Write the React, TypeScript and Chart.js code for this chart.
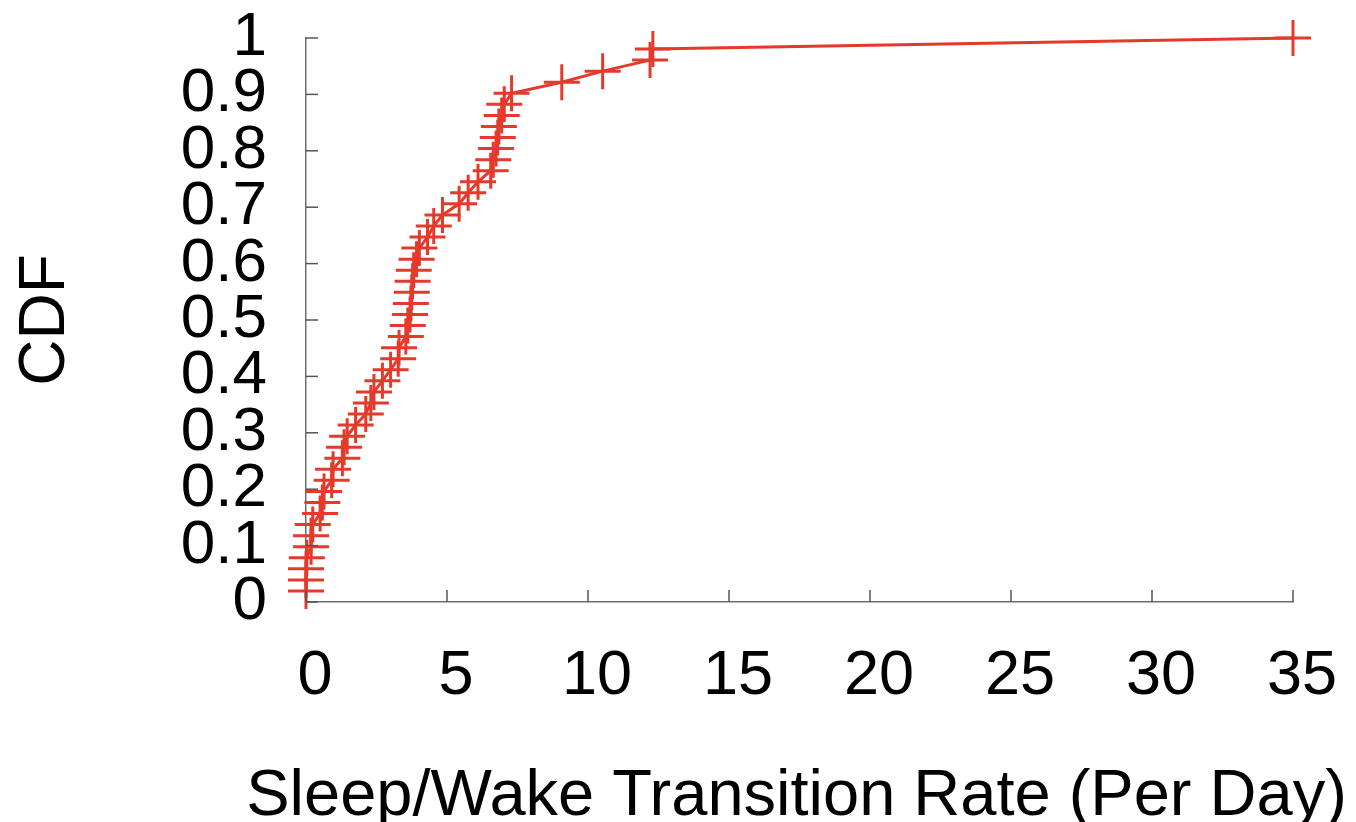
import React, { useEffect, useRef } from "react";
import { Chart, registerables } from "chart.js";

Chart.register(...registerables);

// Sleep/Wake transition rate (per day) for each device, sorted
const rateValues = [
  0, 0, 0, 0.03, 0.18, 0.18, 0.24, 0.5, 0.58, 0.64, 0.91, 0.96, 1.29, 1.35,
  1.46, 1.76, 2.12, 2.3, 2.41, 2.71, 3.0, 3.27, 3.3, 3.54, 3.61, 3.69, 3.72,
  3.75, 3.78, 3.82, 3.92, 4.02, 4.31, 4.53, 4.84, 5.43, 5.75, 6.1, 6.55, 6.64,
  6.74, 6.8, 6.84, 6.94, 7.03, 7.29, 9.07, 10.52, 12.2, 12.3, 35,
];
// cumulative fraction
const cdfValues = [
  0.0196, 0.0392, 0.0588, 0.0784, 0.098, 0.1176, 0.1373, 0.1569, 0.1765,
  0.1961, 0.2157, 0.2353, 0.2549, 0.2745, 0.2941, 0.3137, 0.3333, 0.3529,
  0.3725, 0.3922, 0.4118, 0.4314, 0.451, 0.4706, 0.4902, 0.5098, 0.5294,
  0.549, 0.5686, 0.5882, 0.6078, 0.6275, 0.6471, 0.6667, 0.6863, 0.7059,
  0.7255, 0.7451, 0.7647, 0.7843, 0.8039, 0.8235, 0.8431, 0.8627, 0.8824,
  0.902, 0.9216, 0.9412, 0.9608, 0.9804, 1,
];
const xTickValues = [0, 5, 10, 15, 20, 25, 30, 35];
const xTickLabels = ["0", "5", "10", "15", "20", "25", "30", "35"];
const yTickValues = [0, 0.1, 0.2, 0.3, 0.4, 0.5, 0.6, 0.7, 0.8, 0.9, 1];
const yTickLabels = ["0", "0.1", "0.2", "0.3", "0.4", "0.5", "0.6", "0.7", "0.8", "0.9", "1"];
const xTitle = "Sleep/Wake Transition Rate (Per Day)";
const yTitle = "CDF";

const FONT = "'Liberation Sans', Arial, Helvetica, sans-serif";
const RED = "#e43a2c";
const AXIS = "#6e6e6e";

const inwardTicks = {
  id: "inwardTicks",
  afterDatasetsDraw(chart: any) {
    const { ctx, chartArea, scales } = chart;
    ctx.save();
    ctx.strokeStyle = "#555";
    ctx.lineWidth = 1.5;
    const x = scales.x;
    const y = scales.y;
    for (const v of yTickValues) {
      const py = y.getPixelForValue(v);
      ctx.beginPath();
      ctx.moveTo(chartArea.left, py);
      ctx.lineTo(chartArea.left + 12, py);
      ctx.stroke();
    }
    for (const v of xTickValues) {
      const px = x.getPixelForValue(v);
      ctx.beginPath();
      ctx.moveTo(px, chartArea.bottom);
      ctx.lineTo(px, chartArea.bottom - 12);
      ctx.stroke();
    }
    // x-axis title (drawn without Chart.js' maxWidth squeeze)
    ctx.fillStyle = "#000";
    ctx.font = `65px ${FONT}`;
    ctx.textAlign = "center";
    ctx.textBaseline = "alphabetic";
    ctx.fillText(xTitle, (x.left + x.right) / 2 - 3, 815);
    ctx.restore();
  },
};

export default function App() {
  const ref = useRef<HTMLCanvasElement | null>(null);

  useEffect(() => {
    if (!ref.current) return;
    const chart = new Chart(ref.current, {
      type: "line",
      data: {
        datasets: [
          {
            data: rateValues.map((x, i) => ({ x, y: cdfValues[i] })),
            borderColor: RED,
            backgroundColor: RED,
            borderWidth: 3,
            pointStyle: "cross",
            pointRadius: 18,
            pointHoverRadius: 18,
            pointBorderWidth: 3,
            pointBorderColor: RED,
            tension: 0,
            clip: false as any,
          },
        ],
      },
      options: {
        animation: false,
        responsive: true,
        maintainAspectRatio: false,
        layout: { padding: { top: 38, right: 63, left: 0, bottom: 0 } },
        plugins: { legend: { display: false }, tooltip: { enabled: false } },
        scales: {
          x: {
            type: "linear",
            min: 0,
            max: 35,
            afterBuildTicks: (s: any) => {
              s.ticks = xTickValues.map((v) => ({ value: v }));
            },
            afterFit: (s: any) => {
              s.height = 220;
            },
            grid: { display: false, drawTicks: true, tickLength: 37 },
            border: { display: true, color: AXIS, width: 1.5 },
            ticks: {
              color: "#000",
              padding: 0,
              labelOffset: 9,
              maxRotation: 0,
              autoSkip: false,
              font: { family: FONT, size: 63, lineHeight: 1.2 },
              callback: (v: any) => {
                const i = xTickValues.indexOf(Number(v));
                return i >= 0 ? xTickLabels[i] : "";
              },
            },
            title: { display: false },
          },
          y: {
            type: "linear",
            min: 0,
            max: 1,
            afterBuildTicks: (s: any) => {
              s.ticks = yTickValues.map((v) => ({ value: v }));
            },
            afterFit: (s: any) => {
              s.width = 306;
            },
            grid: { display: false, drawTicks: true, tickLength: 39 },
            border: { display: true, color: AXIS, width: 1.5 },
            ticks: {
              color: "#000",
              padding: 0,
              autoSkip: false,
              font: { family: FONT, size: 62, lineHeight: 1.2 },
              callback: (v: any) => {
                const i = yTickValues.findIndex((t) => Math.abs(t - Number(v)) < 1e-9);
                return i >= 0 ? yTickLabels[i] : "";
              },
            },
            title: {
              display: true,
              text: yTitle,
              color: "#000",
              font: { family: FONT, size: 64, lineHeight: 1.2 },
              padding: { top: 8, bottom: 0 },
            },
          },
        },
      },
      plugins: [inwardTicks],
    });
    return () => chart.destroy();
  }, []);

  return (
    <div
      style={{
        position: "absolute",
        left: 0,
        top: 0,
        width: 1356,
        height: 822,
        background: "#fff",
      }}
    >
      <canvas ref={ref} />
    </div>
  );
}
